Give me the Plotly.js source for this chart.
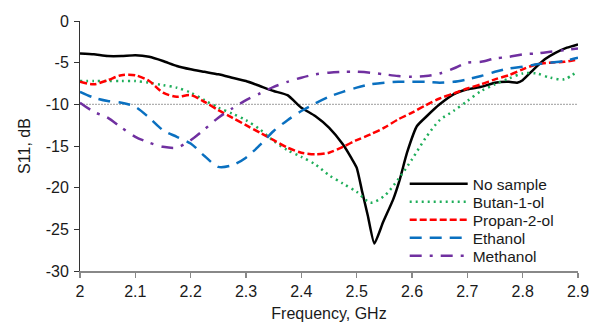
<!DOCTYPE html>
<html>
<head>
<meta charset="utf-8">
<script src="https://cdn.plot.ly/plotly-3.0.1.min.js"></script>
<style>html,body{margin:0;padding:0;background:#fff;}#chart{width:592px;height:324px;}</style>
</head>
<body>
<div id="chart"></div>
<script>
// Frequency grid (GHz) shared by the sample curves
const freq = [2.000,2.025,2.050,2.075,2.100,2.125,2.150,2.175,2.200,2.225,2.250,2.275,2.300,2.325,2.350,2.375,2.400,2.425,2.450,2.475,2.500,2.525,2.550,2.575,2.600,2.625,2.650,2.675,2.700,2.725,2.750,2.775,2.800,2.825,2.850,2.875,2.900];

// No sample uses its own denser grid around the resonance
const freqNoSample = [2.000,2.025,2.050,2.075,2.100,2.125,2.150,2.175,2.200,2.225,2.250,2.275,2.300,2.325,2.350,2.375,2.400,2.425,2.450,2.475,2.490,2.500,2.510,2.520,2.532,2.548,2.566,2.578,2.591,2.609,2.627,2.650,2.675,2.700,2.725,2.750,2.775,2.790,2.800,2.820,2.840,2.860,2.880,2.900];
const noSample = [-3.9,-4.0,-4.2,-4.2,-4.1,-4.3,-4.8,-5.4,-5.8,-6.1,-6.4,-6.8,-7.2,-7.8,-8.4,-8.9,-10.4,-11.4,-12.8,-14.8,-16.4,-17.6,-20.5,-23.3,-26.7,-24.1,-21.4,-19.0,-15.8,-12.6,-11.4,-10.0,-8.8,-8.2,-7.9,-7.4,-7.3,-7.4,-7.1,-5.8,-4.6,-3.8,-3.2,-2.8];

const butanol = [-7.2,-7.2,-7.2,-7.2,-7.2,-7.4,-7.7,-8.0,-8.6,-9.5,-10.4,-11.1,-11.9,-13.0,-14.4,-15.5,-16.3,-17.2,-18.5,-19.5,-20.5,-21.8,-21.0,-19.0,-16.6,-14.0,-11.9,-10.8,-9.6,-8.4,-7.6,-6.9,-6.3,-6.3,-6.8,-7.0,-6.0];
const propanol = [-7.3,-7.6,-7.1,-6.5,-6.5,-7.2,-8.6,-9.1,-8.9,-9.7,-10.7,-11.6,-12.5,-13.4,-14.3,-15.2,-15.8,-16.0,-15.8,-15.1,-14.3,-13.6,-12.8,-11.8,-11.0,-10.1,-9.3,-8.7,-8.1,-7.6,-7.0,-6.5,-5.8,-5.2,-5.0,-4.9,-4.6];
const ethanol = [-8.5,-9.2,-9.6,-9.8,-10.3,-11.6,-13.1,-13.9,-14.7,-16.2,-17.5,-17.3,-16.4,-14.9,-13.2,-11.9,-10.8,-9.9,-9.1,-8.5,-8.0,-7.6,-7.4,-7.3,-7.3,-7.3,-7.4,-7.3,-7.0,-6.6,-6.1,-5.7,-5.5,-5.2,-5.0,-4.8,-4.4];
const methanol = [-9.8,-10.9,-11.6,-12.8,-13.9,-14.6,-15.1,-15.2,-14.3,-13.0,-11.6,-10.5,-9.5,-8.7,-7.9,-7.3,-6.8,-6.4,-6.2,-6.1,-6.1,-6.2,-6.4,-6.6,-6.7,-6.6,-6.3,-5.7,-5.0,-4.9,-4.5,-4.3,-4.0,-3.9,-3.7,-3.5,-3.3];

const seriesNames = ["No sample","Butan-1-ol","Propan-2-ol","Ethanol","Methanol"];
const xTicks = [2,2.1,2.2,2.3,2.4,2.5,2.6,2.7,2.8,2.9];
const yTicks = [0,-5,-10,-15,-20,-25,-30];
const threshold = -10;

const FONT = "Liberation Sans, Arial, sans-serif";
const legendIds = ["legend","legend2","legend3","legend4","legend5"];
const legendY = [0.347, 0.275, 0.203, 0.131, 0.059];

const traces = [
  {x: freqNoSample, y: noSample, name: seriesNames[0], mode: "lines", legend: legendIds[0],
   line: {color: "#000000", width: 2.5, shape: "spline", smoothing: 0.5}},
  {x: freq, y: butanol, name: seriesNames[1], mode: "lines", legend: legendIds[1],
   line: {color: "#1fae5a", width: 2.5, dash: "2px,4px", shape: "spline", smoothing: 0.8}},
  {x: freq, y: propanol, name: seriesNames[2], mode: "lines", legend: legendIds[2],
   line: {color: "#ff0000", width: 2.5, dash: "7px,3px", shape: "spline", smoothing: 0.8}},
  {x: freq, y: ethanol, name: seriesNames[3], mode: "lines", legend: legendIds[3],
   line: {color: "#0a70c0", width: 2.5, dash: "12px,8px", shape: "spline", smoothing: 0.8}},
  {x: freq, y: methanol, name: seriesNames[4], mode: "lines", legend: legendIds[4],
   line: {color: "#7030a0", width: 2.5, dash: "12px,8px,3px,8px", shape: "spline", smoothing: 0.8}}
];

const layout = {
  width: 592, height: 324,
  margin: {l: 80, r: 14, t: 21, b: 53},
  paper_bgcolor: "#ffffff", plot_bgcolor: "#ffffff",
  font: {family: FONT, size: 16, color: "#1a1a1a"},
  showlegend: true,
  xaxis: {range: [2, 2.9], tickvals: xTicks, ticktext: xTicks.map(String),
          showgrid: false, zeroline: false, showline: true, linecolor: "#888888", linewidth: 2,
          ticks: "outside", ticklen: 5, tickcolor: "#888888", tickwidth: 1.5,
          tickfont: {family: FONT, size: 16, color: "#1a1a1a"},
          title: {text: "Frequency, GHz", font: {family: FONT, size: 16, color: "#1a1a1a"}, standoff: 9}},
  yaxis: {range: [-30, 0], tickvals: yTicks, ticktext: yTicks.map(String),
          showgrid: false, zeroline: false, showline: true, linecolor: "#333333", linewidth: 1,
          ticks: "outside", ticklen: 5, tickcolor: "#333333", ticklabelstandoff: 2,
          tickfont: {family: FONT, size: 16, color: "#1a1a1a"},
          title: {text: "S11, dB", font: {family: FONT, size: 16, color: "#1a1a1a"}, standoff: 11}},
  shapes: [{type: "line", xref: "x", yref: "y", x0: 2, x1: 2.9, y0: threshold, y1: threshold,
            line: {color: "#b0b0b0", width: 1.2, dash: "2px,1px"}, layer: "below"}]
};
legendIds.forEach((id, i) => {
  layout[id] = {x: 0.652, y: legendY[i], xanchor: "left", yanchor: "middle",
                bgcolor: "rgba(255,255,255,0)", itemwidth: 58,
                font: {family: FONT, size: 15.5, color: "#1a1a1a"}};
});

Plotly.newPlot("chart", traces, layout, {displayModeBar: false, staticPlot: true});
</script>
</body>
</html>
